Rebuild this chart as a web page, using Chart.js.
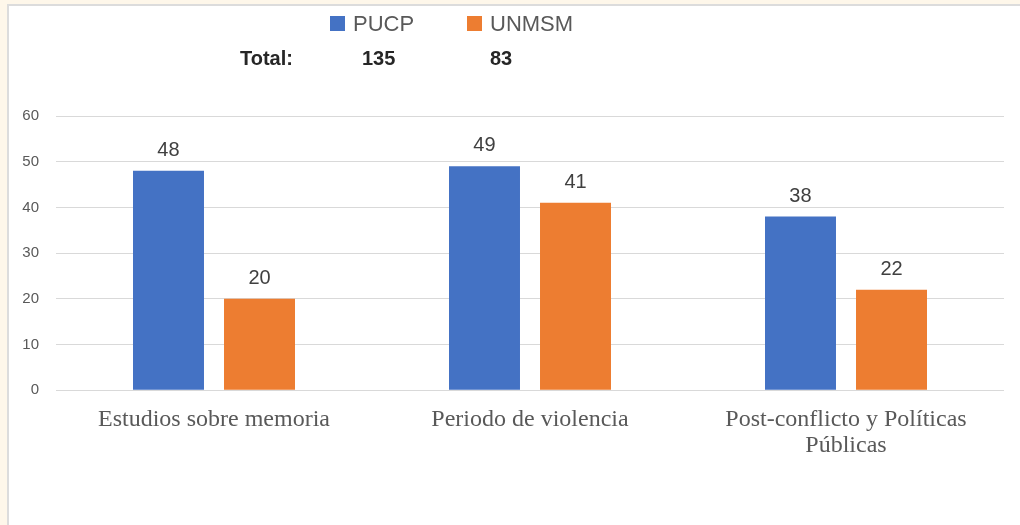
<!DOCTYPE html>
<html>
<head>
<meta charset="utf-8">
<script src="https://cdn.jsdelivr.net/npm/chart.js@4"></script>
<style>
    html, body { margin: 0; padding: 0; background: #fef7ea; }
    #panel {
        position: absolute; left: 7px; top: 4px; width: 1011px; height: 519px;
        background: #fff; border-top: 2px solid #dcdcdc; border-left: 2px solid #dcdcdc;
    }
    canvas { display: block; }
</style>
</head>
<body>
<div id="panel"><canvas id="chart" width="1011" height="519"></canvas></div>
<script>
// Data
const categories = ['Estudios sobre memoria', 'Periodo de violencia', ['Post-conflicto y Políticas', 'Públicas']];
const seriesNames = ['PUCP', 'UNMSM'];
const pucpValues = [48, 49, 38];
const unmsmValues = [20, 41, 22];
const yTicks = [0, 10, 20, 30, 40, 50, 60];

const colors = ['#4472c4', '#ed7d31'];
const sum = arr => arr.reduce((a, b) => a + b, 0);
const totals = [sum(pucpValues), sum(unmsmValues)];

// Value labels above each bar
const valueLabels = {
    id: 'valueLabels',
    afterDatasetsDraw(chart) {
        const ctx = chart.ctx;
        ctx.save();
        ctx.font = '20px "Liberation Sans", Arial, sans-serif';
        ctx.fillStyle = '#404040';
        ctx.textAlign = 'center';
        ctx.textBaseline = 'alphabetic';
        chart.data.datasets.forEach((ds, i) => {
            chart.getDatasetMeta(i).data.forEach((bar, j) => {
                ctx.fillText(ds.data[j], bar.x, bar.y - 15);
            });
        });
        ctx.restore();
    }
};

// Legend plus the "Total:" row at the top
const header = {
    id: 'header',
    afterDraw(chart) {
        const ctx = chart.ctx;
        ctx.save();
        const legendX = [321, 458];
        ctx.textBaseline = 'middle';
        ctx.textAlign = 'left';
        ctx.font = '22px "Liberation Sans", Arial, sans-serif';
        seriesNames.forEach((name, i) => {
            ctx.fillStyle = colors[i];
            ctx.fillRect(legendX[i], 10, 15, 15);
            ctx.fillStyle = '#595959';
            ctx.fillText(name, legendX[i] + 23, 19);
        });
        ctx.font = 'bold 20px "Liberation Sans", Arial, sans-serif';
        ctx.fillStyle = '#262626';
        ctx.fillText('Total:', 231, 53);
        const totalX = [353, 481];
        totals.forEach((t, i) => ctx.fillText(String(t), totalX[i], 53));
        ctx.restore();
    }
};

new Chart(document.getElementById('chart'), {
    type: 'bar',
    data: {
        labels: categories,
        datasets: [
            { label: seriesNames[0], data: pucpValues, backgroundColor: colors[0] },
            { label: seriesNames[1], data: unmsmValues, backgroundColor: colors[1] }
        ]
    },
    options: {
        responsive: false,
        animation: false,
        layout: { padding: { left: 0, right: 16, top: 110, bottom: 58 } },
        datasets: { bar: { categoryPercentage: 0.576, barPercentage: 0.78 } },
        plugins: {
            legend: { display: false },
            tooltip: { enabled: false }
        },
        scales: {
            x: {
                grid: { display: false },
                border: { display: false },
                ticks: {
                    color: '#595959',
                    font: { family: '"Liberation Serif", "Times New Roman", serif', size: 24, lineHeight: 1.1 },
                    padding: 8,
                    maxRotation: 0,
                    autoSkip: false
                }
            },
            y: {
                min: 0,
                max: 60,
                afterBuildTicks(scale) { scale.ticks = yTicks.map(v => ({ value: v })); },
                afterFit(scale) { scale.width = 47; },
                grid: { color: '#d9d9d9', lineWidth: 1, drawTicks: false },
                border: { display: false },
                ticks: {
                    color: '#595959',
                    font: { family: '"Liberation Sans", Arial, sans-serif', size: 15 },
                    padding: 17
                }
            }
        }
    },
    plugins: [valueLabels, header]
});
</script>
</body>
</html>
